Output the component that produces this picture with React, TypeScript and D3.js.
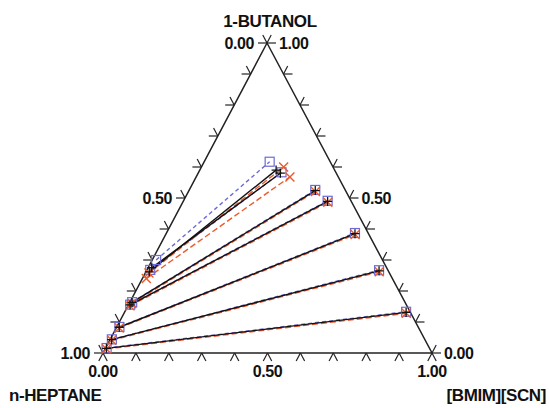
import * as d3 from 'd3';
import { useEffect, useRef } from 'react';

// tie lines: [x_IL, x_butanol] for heptane-rich end and IL-rich end
const expHept = [[0.003, 0.015], [0.005, 0.043], [0.008, 0.083], [0.005, 0.155], [0.007, 0.163], [0.010, 0.262], [0.011, 0.275]];
const expIL = [[0.856, 0.131], [0.707, 0.265], [0.574, 0.385], [0.439, 0.489], [0.384, 0.524], [0.232, 0.590], [0.250, 0.580]];
const redHept = [[0.004, 0.013], [0.006, 0.041], [0.009, 0.081], [0.006, 0.152], [0.008, 0.160], [0.011, 0.258], [0.012, 0.240]];
const redIL = [[0.858, 0.128], [0.709, 0.262], [0.576, 0.382], [0.441, 0.486], [0.386, 0.521], [0.250, 0.600], [0.285, 0.568]];
const blueHept = [[0.003, 0.016], [0.005, 0.044], [0.008, 0.084], [0.005, 0.156], [0.007, 0.164], [0.012, 0.300], [0.010, 0.268]];
const blueIL = [[0.855, 0.133], [0.706, 0.267], [0.573, 0.387], [0.438, 0.491], [0.383, 0.526], [0.199, 0.617], [0.252, 0.583]];

const tickLabels = ['0.00', '0.50', '1.00'];

const W = 549, H = 408;
const L = { x: 103, y: 353 }, R = { x: 432, y: 353 }, T = { x: 267, y: 43 };

const App = () => {
  const ref = useRef(null);

  useEffect(() => {
    const svg = d3.select(ref.current);
    svg.selectAll('*').remove();

    // x_butanol -> y
    const yScale = d3.scaleLinear().domain([0, 1]).range([L.y, T.y]);
    const xIL = d3.scaleLinear().domain([0, 1]).range([0, R.x - L.x]);
    const xBu = d3.scaleLinear().domain([0, 1]).range([0, T.x - L.x]);
    const px = (d) => L.x + xIL(d[0]) + xBu(d[1]);
    const py = (d) => yScale(d[1]);

    const font = 'Liberation Sans, Arial, sans-serif';

    // triangle
    svg.append('path')
      .attr('d', `M${L.x},${L.y}L${R.x},${R.y}L${T.x},${T.y}Z`)
      .attr('fill', 'none').attr('stroke', '#222').attr('stroke-width', 1.5);

    // ticks
    const tl = 9;
    const unit = (a, b) => { const dx = b.x - a.x, dy = b.y - a.y, n = Math.hypot(dx, dy); return [dx / n, dy / n]; };
    const edges = [
      { a: L, b: R, dirs: [unit(T, L), unit(T, R)] },
      { a: L, b: T, dirs: [unit(R, L), unit(R, T)] },
      { a: R, b: T, dirs: [unit(L, R), unit(L, T)] },
    ];
    const fr = d3.range(0, 11).map(i => i / 10);
    edges.forEach(e => {
      fr.forEach(f => {
        const x0 = e.a.x + (e.b.x - e.a.x) * f, y0 = e.a.y + (e.b.y - e.a.y) * f;
        e.dirs.forEach(dd => {
          svg.append('line')
            .attr('x1', x0).attr('y1', y0)
            .attr('x2', x0 + dd[0] * tl).attr('y2', y0 + dd[1] * tl)
            .attr('stroke', '#222').attr('stroke-width', 1.2);
        });
      });
    });

    const text = (x, y, s, anchor, size = 16) => svg.append('text')
      .attr('x', x).attr('y', y).attr('text-anchor', anchor)
      .attr('font-family', font).attr('font-weight', 'bold').attr('font-size', size)
      .attr('letter-spacing', -0.4).attr('fill', '#111').text(s);

    // bottom axis labels
    tickLabels.forEach((s, i) => {
      const f = i / 2;
      text(L.x + (R.x - L.x) * f, L.y + 24, s, 'middle');
    });
    // left axis labels (heptane)
    [tickLabels[2], tickLabels[1], tickLabels[0]].forEach((s, i) => {
      const f = i / 2;
      const x = L.x + (T.x - L.x) * f, y = L.y + (T.y - L.y) * f;
      text(x - 13, y + 6, s, 'end');
    });
    // right axis labels (butanol)
    tickLabels.forEach((s, i) => {
      const f = i / 2;
      const x = R.x + (T.x - R.x) * f, y = R.y + (T.y - R.y) * f;
      text(x + 12, y + 6, s, 'start');
    });

    text(T.x + 3, T.y - 16, '1-BUTANOL', 'middle', 17);
    text(9, 401, 'n-HEPTANE', 'start', 17);
    text(546, 401, '[BMIM][SCN]', 'end', 17);

    const line = d3.line().x(px).y(py);
    const drawSet = (hept, il, color, dash) => {
      hept.forEach((h, i) => {
        svg.append('path').attr('d', line([h, il[i]]))
          .attr('fill', 'none').attr('stroke', color).attr('stroke-width', 1.4)
          .attr('stroke-dasharray', dash);
      });
    };
    drawSet(blueHept, blueIL, '#6b6bd6', '4,3');
    drawSet(redHept, redIL, '#ec5a2c', '6,3');
    drawSet(expHept, expIL, '#111', null);

    // markers
    const ms = 4.5;
    blueHept.concat(blueIL).forEach(d => {
      svg.append('rect').attr('x', px(d) - ms).attr('y', py(d) - ms)
        .attr('width', ms * 2).attr('height', ms * 2)
        .attr('fill', 'none').attr('stroke', '#6b6bd6').attr('stroke-width', 1.2);
    });
    redHept.concat(redIL).forEach(d => {
      svg.append('path')
        .attr('d', `M${px(d) - ms},${py(d) - ms}L${px(d) + ms},${py(d) + ms}M${px(d) - ms},${py(d) + ms}L${px(d) + ms},${py(d) - ms}`)
        .attr('stroke', '#ec5a2c').attr('stroke-width', 1.4);
    });
    expHept.concat(expIL).forEach(d => {
      svg.append('path')
        .attr('d', `M${px(d) - ms},${py(d)}L${px(d) + ms},${py(d)}M${px(d)},${py(d) - ms}L${px(d)},${py(d) + ms}`)
        .attr('stroke', '#111').attr('stroke-width', 1.3);
    });
  });

  return (
    <svg ref={ref} width={W} height={H}
      style={{ position: 'absolute', left: 0, top: 0, background: '#fff' }} />
  );
};

export default App;
